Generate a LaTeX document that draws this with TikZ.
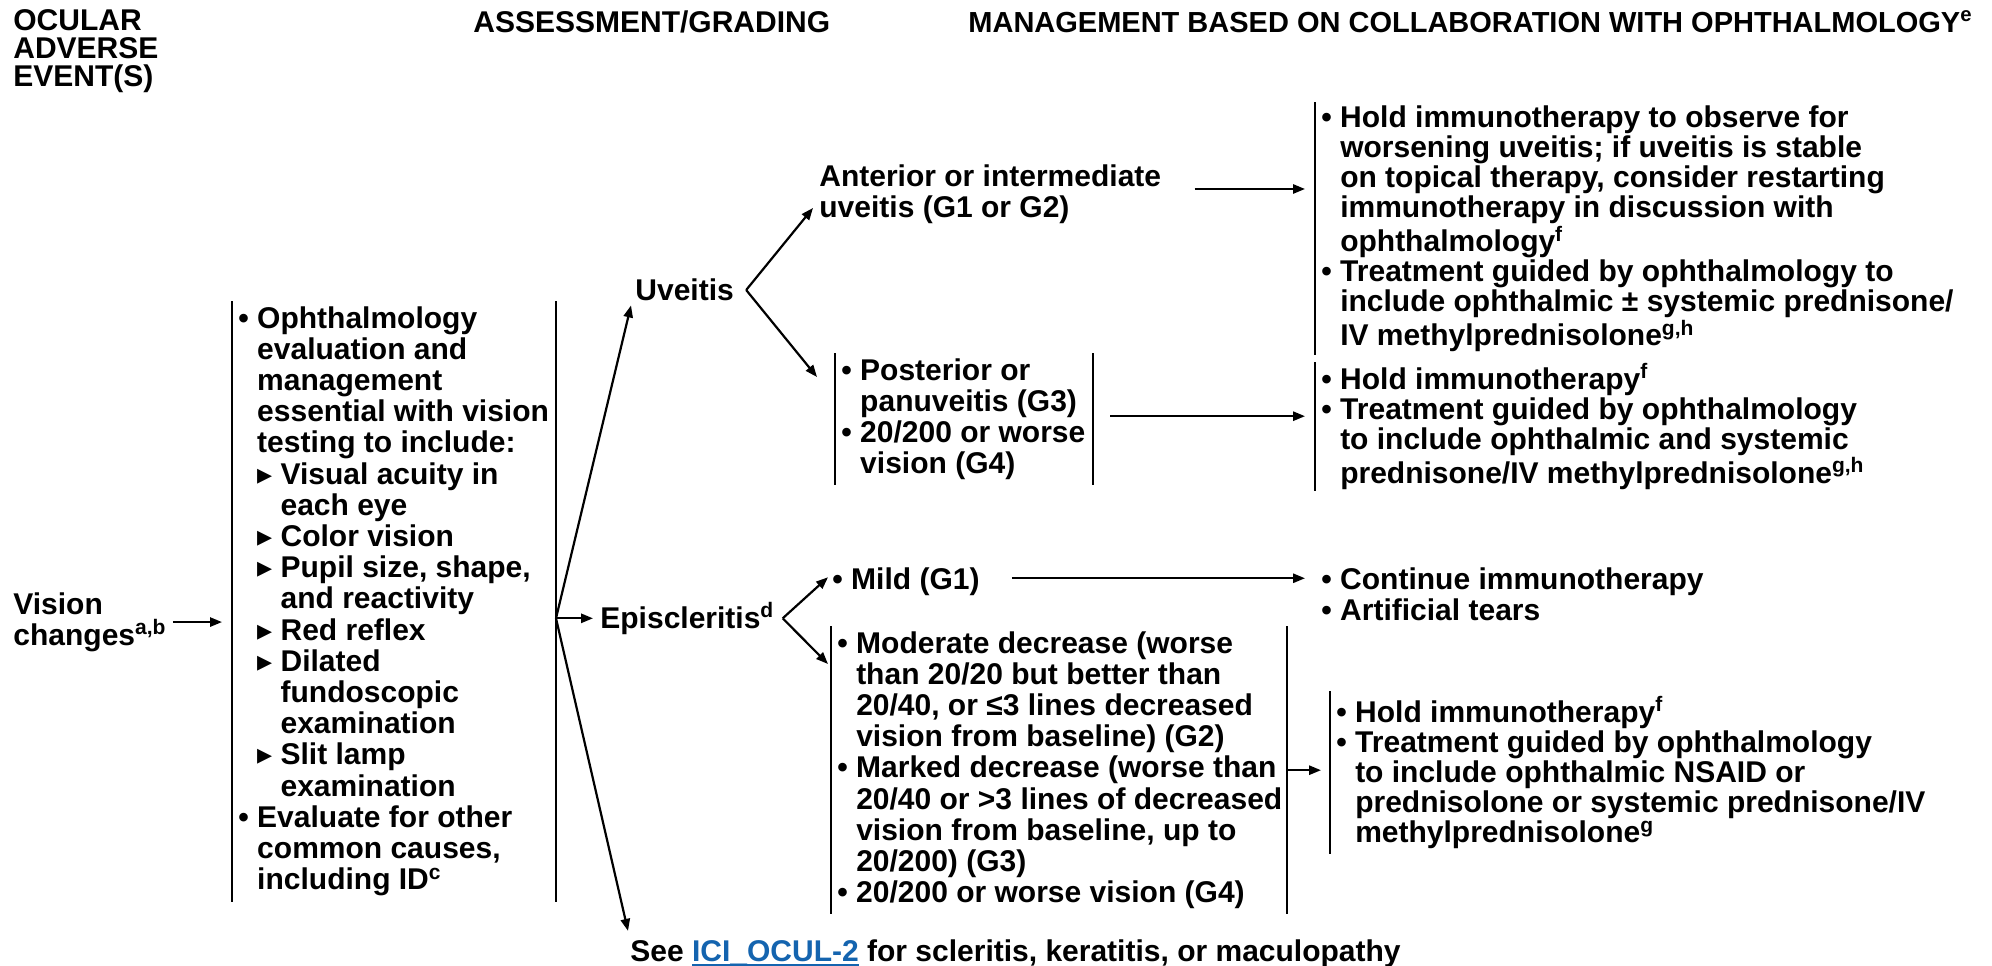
\documentclass[tikz,border=0pt]{standalone}
\usepackage{fontspec}
\setmainfont{Liberation Sans}
\newfontfamily\symfont{DejaVu Sans}
\usetikzlibrary{arrows.meta,calc}

\definecolor{linkblue}{RGB}{20,100,175}

\newsavebox{\linkbox}
\newcommand{\linkul}[1]{\sbox{\linkbox}{#1}\rlap{\rule[-2.5bp]{\wd\linkbox}{1bp}}\usebox{\linkbox}}
\newcommand{\trimark}{{\symfont\bfseries ▸}}
\newcommand{\bul}{•\ }
\newcommand{\bsp}{\hphantom{•\ }}
\newcommand{\tsp}{\hphantom{\trimark\ }}

\tikzset{
  txt/.style={inner sep=0pt, align=left, anchor=north west,
    font=\fontsize{15bp}{15.6bp}\selectfont\bfseries},
  hdr/.style={txt, font=\fontsize{15bp}{14bp}\selectfont\bfseries},
  tight/.style={font=\fontsize{15bp}{15.1bp}\selectfont\bfseries},
  grp/.style={txt, inner xsep=3bp, inner ysep=2.5bp},
  arr/.style={-{Triangle[length=6bp,width=4.6bp]}, line width=1.1bp},
  bar/.style={line width=1bp}
}

\begin{document}
\begin{tikzpicture}[x=0.5bp,y=-0.5bp]
  \fill[white] (0,0) rectangle (1992,965);
  \useasboundingbox (0,0) rectangle (1992,965);

  % Headers
  \node[hdr] (hd_event) at (13,9) {OCULAR\\ADVERSE\\EVENT(S)}; %
  \node[hdr, anchor=base west] (hd_grade) at (473,32) {ASSESSMENT/GRADING}; %
  \node[hdr, anchor=base west, font=\fontsize{14.5bp}{14bp}\selectfont\bfseries] (hd_manage) at (968,32) {MANAGEMENT BASED ON COLLABORATION WITH OPHTHALMOLOGY\textsuperscript{e}}; %

  % Nodes
  \node[txt] (vision) at (13,592) {Vision\\changes\textsuperscript{a,b}}; %
  \node[grp] (assess) at (232,301) {\bul Ophthalmology\\
    \bsp evaluation and\\
    \bsp management\\
    \bsp essential with vision\\
    \bsp testing to include:\\
    \bsp\trimark\ Visual acuity in\\
    \bsp\tsp each eye\\
    \bsp\trimark\ Color vision\\
    \bsp\trimark\ Pupil size, shape,\\
    \bsp\tsp and reactivity\\
    \bsp\trimark\ Red reflex\\
    \bsp\trimark\ Dilated\\
    \bsp\tsp fundoscopic\\
    \bsp\tsp examination\\
    \bsp\trimark\ Slit lamp\\
    \bsp\tsp examination\\
    \bul Evaluate for other\\
    \bsp common causes,\\
    \bsp including ID\textsuperscript{c}}; %
  \coordinate (assess_r) at (556,0);

  \node[txt, anchor=west] (uveitis) at (635,290) {Uveitis}; %
  \node[txt, anchor=base west] (episc) at (600,628) {Episcleritis\textsuperscript{d}}; %
  \node[txt, anchor=base west] (see) at (630,961) {See \textcolor{linkblue}{\linkul{ICI\_OCUL-2}} for scleritis, keratitis, or maculopathy}; %

  \node[txt] (anterior) at (819,164) {Anterior or intermediate\\uveitis (G1 or G2)}; %
  \node[grp] (posterior) at (835,353) {\bul Posterior or\\
    \bsp panuveitis (G3)\\
    \bul 20/200 or worse\\
    \bsp vision (G4)}; %
  \coordinate (posterior_r) at (1093,0);

  \node[txt, anchor=base west] (mild) at (832,589) {\bul Mild (G1)}; %
  \node[grp] (moderate) at (831,626) {\bul Moderate decrease (worse\\
    \bsp than 20/20 but better than\\
    \bsp 20/40, or ≤3 lines decreased\\
    \bsp vision from baseline) (G2)\\
    \bul Marked decrease (worse than\\
    \bsp 20/40 or >3 lines of decreased\\
    \bsp vision from baseline, up to\\
    \bsp 20/200) (G3)\\
    \bul 20/200 or worse vision (G4)}; %
  \coordinate (moderate_r) at (1287,0);

  % Management
  \node[grp, tight, inner ysep=1.5bp] (hold_a) at (1315,102) {\bul Hold immunotherapy to observe for\\
    \bsp worsening uveitis; if uveitis is stable\\
    \bsp on topical therapy, consider restarting\\
    \bsp immunotherapy in discussion with\\
    \bsp ophthalmology\textsuperscript{f}\\
    \bul Treatment guided by ophthalmology to\\
    \bsp include ophthalmic ± systemic prednisone/\\
    \bsp IV methylprednisolone\textsuperscript{g,h}}; %
  \node[grp, tight, inner ysep=0.5bp] (hold_b) at (1315,362) {\bul Hold immunotherapy\textsuperscript{f}\\
    \bul Treatment guided by ophthalmology\\
    \bsp to include ophthalmic and systemic\\
    \bsp prednisone/IV methylprednisolone\textsuperscript{g,h}}; %
  \node[txt] (continue) at (1321,567) {\bul Continue immunotherapy\\
    \bul Artificial tears}; %
  \node[grp, tight] (hold_e) at (1330,691) {\bul Hold immunotherapy\textsuperscript{f}\\
    \bul Treatment guided by ophthalmology\\
    \bsp to include ophthalmic NSAID or\\
    \bsp prednisolone or systemic prednisone/IV\\
    \bsp methylprednisolone\textsuperscript{g}}; %

  % Bars
  \draw[bar] (assess.north west) -- (assess.south west);
  \draw[bar] (assess.north west -| assess_r) -- (assess.south west -| assess_r);
  \draw[bar] (posterior.north west) -- (posterior.south west);
  \draw[bar] (posterior.north west -| posterior_r) -- (posterior.south west -| posterior_r);
  \draw[bar] (moderate.north west) -- (moderate.south west);
  \draw[bar] (moderate.north west -| moderate_r) -- (moderate.south west -| moderate_r);
  \draw[bar] (hold_a.north west) -- (hold_a.south west);
  \draw[bar] (hold_b.north west) -- (hold_b.south west);
  \draw[bar] (hold_e.north west) -- (hold_e.south west);

  % Edges
  \draw[arr] ($(vision.east)+(6,0)$) -- ($(vision.east -| assess.west)+(-10,0)$);
  \coordinate (fan) at (assess_r |- episc.west);
  \draw[arr] (fan) -- ($(uveitis.south west)+(-4,4)$);
  \draw[arr] (fan) -- ($(fan -| episc.west)+(-7,0)$);
  \draw[arr] (fan) -- ($(see.north west)+(-2,-8)$);

  \coordinate (uv_v) at ($(uveitis.east)+(12,0)$);
  \draw[arr] (uv_v) -- ($(anterior.south west)+(-6,-16)$);
  \draw[arr] (uv_v) -- ($(posterior.north west)+(-18,24)$);
  \draw[arr] ($(anterior.east)+(33,-5)$) -- ($(anterior.east -| hold_a.west)+(-10,-5)$);
  \draw[arr] ($(posterior.east -| posterior_r)+(17,-3)$) -- ($(posterior.east -| hold_b.west)+(-10,-3)$);

  \coordinate (ep_v) at ($(episc.east)+(8,0)$);
  \draw[arr] (ep_v) -- ($(mild.west)+(-4,-4)$);
  \draw[arr] (ep_v) -- ($(moderate.north west)+(-3,38)$);
  \draw[arr] ($(mild.east)+(32,-3)$) -- ($(mild.east -| continue.west)+(-16,-3)$);
  \draw[arr] (moderate.east -| moderate_r) -- ($(moderate.east -| hold_e.west)+(-9,0)$);

\end{tikzpicture}
\end{document}
